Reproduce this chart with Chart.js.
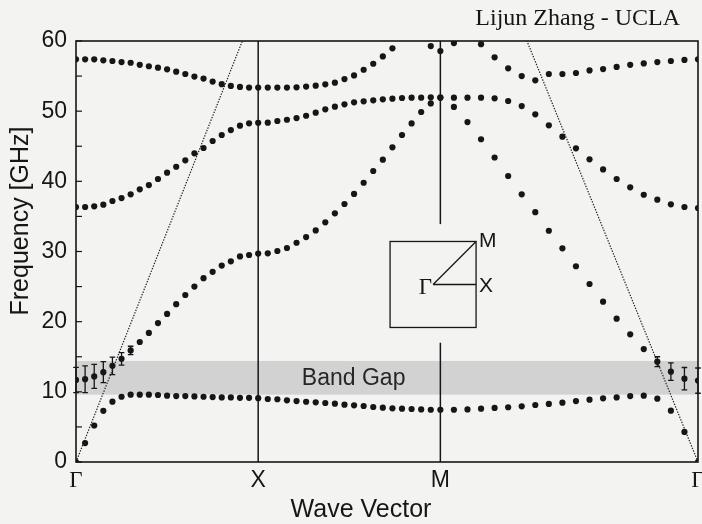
<!DOCTYPE html>
<html>
<head>
<meta charset="utf-8">
<script src="https://cdn.jsdelivr.net/npm/chart.js@4.4.1/dist/chart.umd.min.js"></script>
<style>
  html, body { margin: 0; padding: 0; background: #f3f3f2; }
  #wrap { width: 702px; height: 524px; }
</style>
</head>
<body>
<div id="wrap"><canvas id="bandChart" width="702" height="524"></canvas></div>
<script>
// ==========================================
// Phonon band structure along Γ-X-M-Γ
// ==========================================

// wave vector path: Γ=0, X=1, M=2, Γ=2+√2
const kTicks = [0, 1, 2, 2 + Math.SQRT2];
const kLabels = ['Γ', 'X', 'M', 'Γ'];
const freqTicks = [0, 5, 10, 15, 20, 25, 30, 35, 40, 45, 50, 55, 60];

// sampling of each segment (GX includes both ends, XM / MG start after the corner)
const nGX = 20, nXM = 19, nMG = 19;
const kGX = Array.from({ length: nGX + 1 }, (_, i) => i / nGX);
const kXM = Array.from({ length: nXM }, (_, i) => 1 + (i + 1) / nXM);
const kMG = Array.from({ length: nMG }, (_, i) => 2 + Math.SQRT2 * (i + 1) / nMG);

// frequencies [GHz] (null = above 60, not shown)
const band1GX = [0, 2.7, 5.2, 7.3, 8.6, 9.3, 9.6, 9.6, 9.6, 9.55, 9.45, 9.4, 9.4, 9.35, 9.3, 9.25, 9.2, 9.2, 9.15, 9.15, 9.1];
const band1XM = [8.98, 8.94, 8.79, 8.69, 8.59, 8.5, 8.41, 8.31, 8.17, 8.08, 7.98, 7.84, 7.74, 7.65, 7.6, 7.55, 7.5, 7.45, 7.45];
const band1MG = [7.45, 7.5, 7.6, 7.7, 7.8, 7.93, 8.12, 8.27, 8.46, 8.69, 8.88, 9.07, 9.21, 9.4, 9.45, 9.03, 7.31, 4.28, 0];

const band2GX = [11.7, 11.8, 12.2, 12.8, 13.7, 14.7, 15.9, 17.1, 18.4, 19.8, 21.1, 22.5, 23.8, 25.0, 26.2, 27.1, 28.0, 28.6, 29.3, 29.5, 29.7];
const band2XM = [29.74, 30.07, 30.5, 31.25, 32.06, 33.0, 34.16, 35.44, 36.77, 38.2, 39.8, 41.47, 43.08, 44.85, 46.6, 48.26, 49.88, 51.1, 51.9];
const band2MG = [50.6, 48.45, 46.0, 43.4, 40.76, 38.15, 35.6, 32.96, 30.45, 27.9, 25.37, 22.85, 20.43, 18.2, 16.1, 14.3, 12.87, 11.87, 11.6];

const band3GX = [36.34, 36.34, 36.44, 36.67, 37.2, 37.62, 38.15, 38.86, 39.47, 40.33, 41.23, 42.08, 43.0, 43.99, 44.75, 45.75, 46.6, 47.3, 47.93, 48.27, 48.35];
const band3XM = [48.36, 48.6, 48.78, 49.02, 49.35, 49.78, 50.26, 50.64, 50.98, 51.26, 51.4, 51.55, 51.69, 51.78, 51.88, 51.92, 51.92, 51.97, 51.97];
const band3MG = [51.92, 51.92, 51.92, 51.83, 51.45, 50.73, 49.55, 47.98, 46.36, 44.7, 43.13, 41.7, 40.33, 39.14, 38.09, 37.38, 36.72, 36.34, 36.2];

const band4GX = [57.39, 57.39, 57.39, 57.25, 57.15, 57.0, 56.9, 56.6, 56.4, 56.2, 55.97, 55.63, 55.3, 54.93, 54.65, 54.22, 53.85, 53.6, 53.46, 53.36, 53.36];
const band4XM = [53.36, 53.36, 53.36, 53.4, 53.5, 53.63, 53.82, 54.06, 54.58, 55.1, 55.9, 56.76, 57.8, 58.95, null, null, null, 59.28, 58.57];
const band4MG = [59.7, null, 59.55, 57.67, 56.1, 55.0, 54.4, 55.3, 55.3, 55.44, 55.8, 56.0, 56.3, 56.6, 56.8, 57.0, 57.15, 57.3, 57.4];

// measured points: error bars (± GHz) on band 2 near Γ
const errGX = [1.8, 1.9, 1.7, 1.5, 1.25, 0.9, 0.6];
const errMG = [0.7, 1.25, 1.6, 1.8];

// shaded band gap [GHz]
const bandGap = [9.6, 14.4];

// sound lines from Γ (dotted)
const soundLeft = [{ x: 0, y: 0 }, { x: 0.913, y: 60 }];
const soundRight = [{ x: 2 + Math.SQRT2, y: 0 }, { x: 2 + Math.SQRT2 - 0.939, y: 60 }];

// symmetry-point lines (M line is broken around the inset)
const lineX = [{ x: 1, y: 0 }, { x: 1, y: 60 }];
const lineMLow = [{ x: 2, y: 0 }, { x: 2, y: 17 }];
const lineMHigh = [{ x: 2, y: 33.9 }, { x: 2, y: 60 }];

function bandPoints(gx, xm, mg) {
    const ks = kGX.concat(kXM, kMG);
    const fs = gx.concat(xm, mg);
    return ks.map((k, i) => ({ x: k, y: fs[i] })).filter(p => p.y !== null);
}

const INK = '#161616';
const SANS = 'Liberation Sans, Arial, sans-serif';
const SERIF = 'Liberation Serif, Times New Roman, serif';

function dots(data) {
    return { data, pointRadius: 3.1, pointHoverRadius: 3.1, backgroundColor: INK, borderWidth: 0, showLine: false };
}
function line(data, dashed) {
    return {
        data, showLine: true, pointRadius: 0, borderColor: dashed ? '#222' : INK,
        borderWidth: dashed ? 1.2 : 1.5, borderDash: dashed ? [1.4, 1.4] : []
    };
}

// extra drawing: gap band, error bars, frame, inward ticks, inset, texts
const decor = {
    id: 'decor',
    beforeDatasetsDraw(chart) {
        const { ctx, chartArea: a, scales: { x, y } } = chart;
        ctx.save();
        ctx.fillStyle = '#d2d2d2';
        const yt = y.getPixelForValue(bandGap[1]), yb = y.getPixelForValue(bandGap[0]);
        ctx.fillRect(a.left, yt, a.right - a.left, yb - yt);
        ctx.fillStyle = '#262626';
        ctx.font = '23px ' + SANS;
        ctx.textAlign = 'center';
        ctx.textBaseline = 'middle';
        ctx.fillText('Band Gap', x.getPixelForValue(1.524), (yt + yb) / 2 + 1);
        ctx.restore();
    },
    afterDatasetsDraw(chart) {
        const { ctx, chartArea: a, scales: { x, y } } = chart;
        ctx.save();
        ctx.strokeStyle = INK;
        ctx.fillStyle = INK;

        // error bars
        const bars = [];
        errGX.forEach((e, i) => bars.push([kGX[i], band2GX[i], e]));
        errMG.forEach((e, i) => {
            const j = nMG - errMG.length + i;
            bars.push([kMG[j], band2MG[j], e]);
        });
        ctx.lineWidth = 1.3;
        bars.forEach(([k, f, e]) => {
            const px = x.getPixelForValue(k);
            const y1 = y.getPixelForValue(f + e), y2 = y.getPixelForValue(f - e);
            ctx.beginPath();
            ctx.moveTo(px, y1); ctx.lineTo(px, y2);
            ctx.moveTo(px - 2.8, y1); ctx.lineTo(px + 2.8, y1);
            ctx.moveTo(px - 2.8, y2); ctx.lineTo(px + 2.8, y2);
            ctx.stroke();
        });

        // frame + inward minor ticks
        ctx.lineWidth = 1.6;
        ctx.strokeRect(a.left, a.top, a.right - a.left, a.bottom - a.top);
        ctx.lineWidth = 1.2;
        freqTicks.forEach(v => {
            const py = y.getPixelForValue(v);
            ctx.beginPath();
            ctx.moveTo(a.left, py); ctx.lineTo(a.left + 6, py);
            ctx.stroke();
        });

        // Brillouin zone inset
        const cx = x.getPixelForValue(1.96), cy = y.getPixelForValue(25.3), h = 43;
        ctx.lineWidth = 1.3;
        ctx.strokeRect(cx - h, cy - h, 2 * h, 2 * h);
        ctx.beginPath();
        ctx.moveTo(cx, cy); ctx.lineTo(cx + h, cy);
        ctx.moveTo(cx, cy); ctx.lineTo(cx + h, cy - h);
        ctx.stroke();
        ctx.font = '21px ' + SANS;
        ctx.textBaseline = 'middle';
        ctx.textAlign = 'left';
        ctx.fillText('M', cx + h + 3, cy - h);
        ctx.fillText('X', cx + h + 3, cy + 2);
        ctx.font = '23px ' + SERIF;
        ctx.textAlign = 'right';
        ctx.fillText('Γ', cx - 1, cy + 3);

        // titles
        ctx.textAlign = 'right';
        ctx.textBaseline = 'alphabetic';
        ctx.font = '24px ' + SERIF;
        ctx.fillText('Lijun Zhang - UCLA', 680, 25);
        ctx.textAlign = 'center';
        ctx.font = '25px ' + SANS;
        ctx.fillText('Wave Vector', 361, 517);
        ctx.translate(28, 221);
        ctx.rotate(-Math.PI / 2);
        ctx.fillText('Frequency [GHz]', 0, 0);
        ctx.restore();
    }
};

new Chart(document.getElementById('bandChart'), {
    type: 'scatter',
    data: {
        datasets: [
            dots(bandPoints(band1GX, band1XM, band1MG)),
            dots(bandPoints(band2GX, band2XM, band2MG)),
            dots(bandPoints(band3GX, band3XM, band3MG)),
            dots(bandPoints(band4GX, band4XM, band4MG)),
            line(lineX, false),
            line(lineMLow, false),
            line(lineMHigh, false),
            line(soundLeft, true),
            line(soundRight, true)
        ]
    },
    options: {
        responsive: false,
        animation: false,
        events: [],
        layout: { padding: { top: 41, right: 4, left: 0, bottom: 0 } },
        plugins: { legend: { display: false }, tooltip: { enabled: false } },
        scales: {
            x: {
                type: 'linear',
                min: 0,
                max: 2 + Math.SQRT2,
                afterBuildTicks: s => { s.ticks = kTicks.map(v => ({ value: v })); },
                afterFit: s => { s.height = 62; s.paddingLeft = 0; s.paddingRight = 0; },
                grid: { display: false, drawTicks: false },
                border: { display: false },
                ticks: {
                    autoSkip: false,
                    maxRotation: 0,
                    padding: 5,
                    color: INK,
                    callback: (v, i) => kLabels[i],
                    font: c => ({ family: kLabels[c.index] === 'Γ' ? SERIF : SANS, size: 23 })
                }
            },
            y: {
                min: 0,
                max: 60,
                afterBuildTicks: s => { s.ticks = freqTicks.map(v => ({ value: v })); },
                afterFit: s => { s.width = 76; s.paddingTop = 0; s.paddingBottom = 0; },
                grid: { display: false, drawTicks: false },
                border: { display: false },
                ticks: {
                    padding: 9,
                    color: INK,
                    font: { family: SANS, size: 23 },
                    callback: v => (v % 10 === 0 ? String(v) : '')
                }
            }
        }
    },
    plugins: [decor]
});
</script>
</body>
</html>
